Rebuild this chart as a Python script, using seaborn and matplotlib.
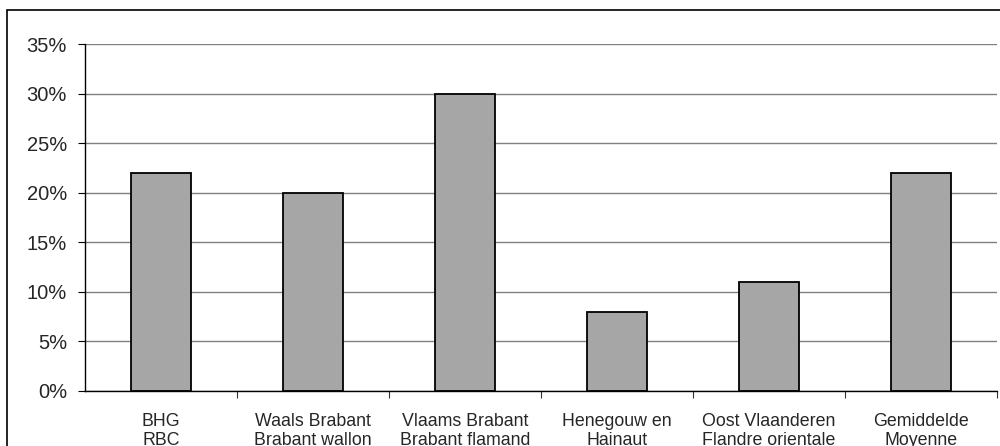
import matplotlib
matplotlib.use("Agg")
import matplotlib.pyplot as plt
import seaborn as sns
import pandas as pd
from matplotlib.patches import Rectangle
from matplotlib.ticker import FixedLocator, FuncFormatter

categories = ["BHG\nRBC", "Waals Brabant\nBrabant wallon", "Vlaams Brabant\nBrabant flamand",
              "Henegouw en\nHainaut", "Oost Vlaanderen\nFlandre orientale", "Gemiddelde\nMoyenne"]
values = [22, 20, 30, 8, 11, 22]
yticks = [0, 5, 10, 15, 20, 25, 30, 35]

sns.set_theme(style="white")
plt.rcParams["font.family"] = ["Liberation Sans", "DejaVu Sans"]

fig = plt.figure(figsize=(10, 4.46), dpi=100)
W, H = 1000, 446
ax = fig.add_axes([85 / W, 1 - 391 / H, (997 - 85) / W, (391 - 44) / H])

df = pd.DataFrame({"cat": categories, "val": values})
sns.barplot(data=df, x="cat", y="val", ax=ax, color="#a6a6a6", width=0.4,
            edgecolor="black", linewidth=1.3, saturation=1)

ax.set_xlim(-0.5, len(categories) - 0.5)
ax.set_ylim(0, 35)
ax.set_yticks(yticks)
ax.yaxis.set_major_formatter(FuncFormatter(lambda v, p: f"{int(v)}%"))
ax.set_axisbelow(True)
ax.yaxis.grid(True, color="#808080", linewidth=1.0)
ax.xaxis.grid(False)

ax.xaxis.set_minor_locator(FixedLocator([i + 0.5 for i in range(len(categories))]))
ax.tick_params(axis="x", which="major", length=0, pad=15.5, labelsize=12.8)
ax.tick_params(axis="x", which="minor", length=5, width=0.8, color="#333333", direction="out", bottom=True)
ax.tick_params(axis="y", which="major", length=5, width=0.8, color="black", direction="out",
               left=True, pad=8, labelsize=14.5)
ax.set_xlabel("")
ax.set_ylabel("")
for lab in ax.get_xticklabels():
    lab.set_linespacing(1.22)

for s in ["top", "right"]:
    ax.spines[s].set_visible(False)
ax.spines["left"].set_color("black")
ax.spines["left"].set_linewidth(1.0)
ax.spines["bottom"].set_color("black")
ax.spines["bottom"].set_linewidth(1.0)

fig.patches.append(Rectangle((7 / W, -0.1), 1.2, 1 - 10 / H + 0.1, transform=fig.transFigure,
                             fill=False, edgecolor="black", linewidth=1.2, zorder=10))

fig.savefig("out.png", dpi=100)
